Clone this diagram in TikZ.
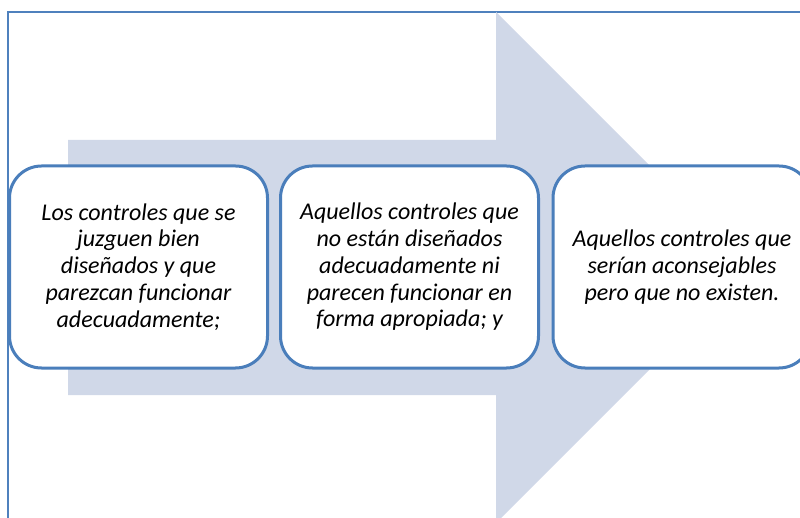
\documentclass[tikz,border=0pt]{standalone}
\usepackage{fontspec}
\setmainfont{Carlito}
\definecolor{arrowfill}{HTML}{D0D8E8}
\definecolor{boxline}{HTML}{4A7EBB}
\definecolor{frameline}{HTML}{4F81BD}
\begin{document}
\begin{tikzpicture}[x=1pt,y=-1pt,
  stagebox/.style={draw=boxline, line width=3pt, fill=white, rounded corners=32pt,
    minimum width=258pt, minimum height=202pt, inner sep=0pt, align=center,
    font=\fontsize{24}{26.8}\selectfont\itshape, text=black}]
\useasboundingbox (0,0) rectangle (800,518);
\clip (0,0) rectangle (800,518);
% frame
\draw[frameline, line width=1.8pt] (8,12) rectangle (830,540);
% big arrow
\fill[arrowfill] (68,140) -- (496,140) -- (496,12) -- (751.5,267.5) -- (496,523) -- (496,395) -- (68,395) -- cycle;
% boxes
\node[stagebox] (b1) at (138.5,267) {Los controles que se\\juzguen bien\\diseñados y que\\parezcan funcionar\\adecuadamente;};
\node[stagebox] (b2) at (409.5,267) {Aquellos controles que\\no están diseñados\\adecuadamente ni\\parecen funcionar en\\forma apropiada; y};
\node[stagebox] (b3) at (682,267) {Aquellos controles que\\serían aconsejables\\pero que no existen.};
\end{tikzpicture}
\end{document}
